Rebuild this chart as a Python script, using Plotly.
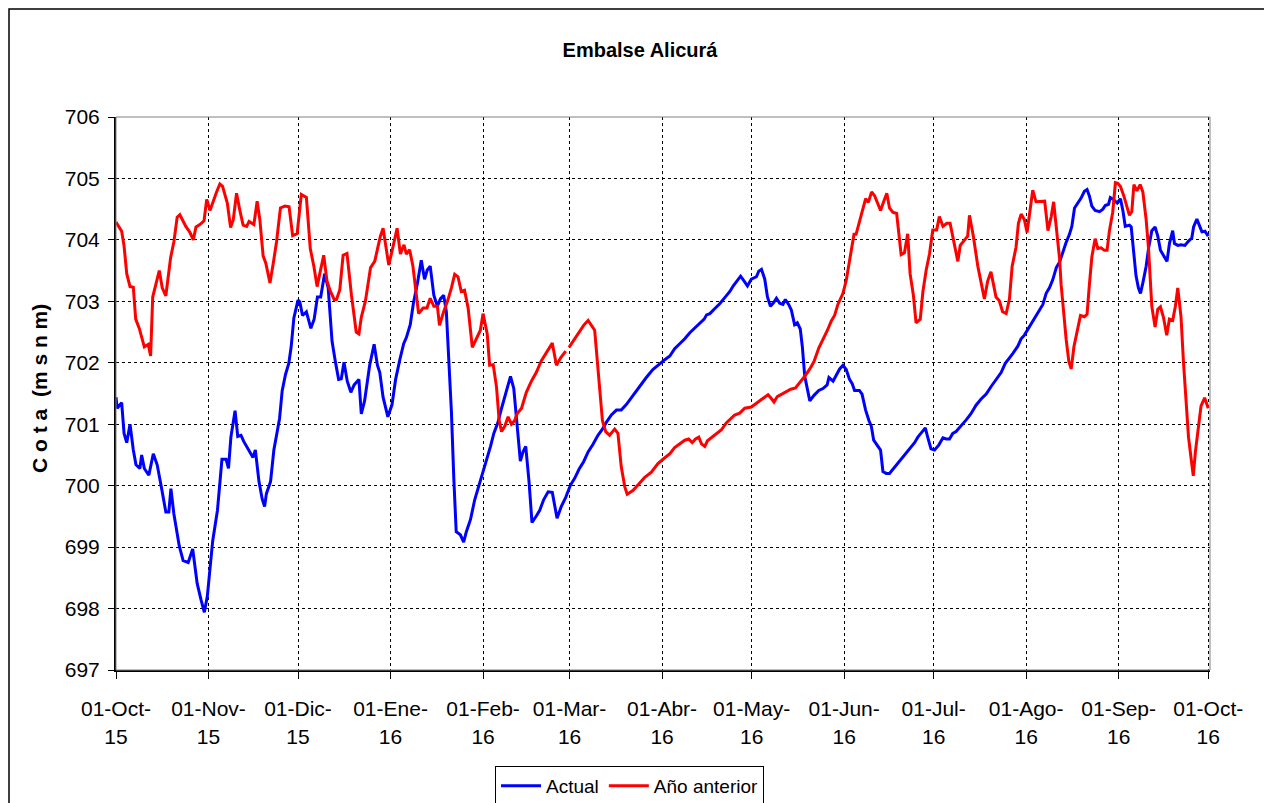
import pandas as pd
import plotly.graph_objects as go

# dias desde 01-Oct-15 / cota (m s n m)
dias_actual = [
  0, 0.4, 1.9, 2.7, 3.6, 4.7, 5.8, 6.7, 8.0, 8.6, 9.5, 11.0, 12.5, 13.8, 15.3, 16.7, 17.7, 18.4, 19.4, 21.2,
  22.5, 24.2, 25.7, 27.2, 28.5, 29.6, 30.6, 32.4, 34.0, 35.5, 36.9, 37.7, 38.5, 39.9, 40.8, 41.9, 42.8, 44.5,
  45.9, 46.7, 47.9, 49.0, 49.8, 50.4, 51.8, 52.9, 54.0, 54.8, 55.7, 56.8, 57.9, 58.7, 59.6, 61.0,
  61.6, 62.5, 63.8, 65.3, 66.4, 67.5, 68.6, 69.9, 71.1, 72.4, 73.5, 74.6, 75.5, 76.4, 77.5, 78.7, 79.8, 81.4,
  82.2, 83.3, 85.0, 86.5, 87.6, 88.4, 89.5, 91.1, 92.5, 93.7, 95.1, 96.4, 97.3, 98.6, 99.7, 101.0, 102.3,
  103.4, 104.3, 105.3, 106.5, 107.7, 108.7, 109.8, 110.7, 111.5, 112.4, 113.2, 114.0, 115.4, 116.5, 117.4,
  118.8, 120.2, 121.5,
  123.0, 124.4, 125.5, 126.6, 128.0, 129.2, 130.6, 132.2, 133.3, 134.2, 135.5, 136.4, 137.3, 138.4, 139.4,
  140.9, 142.0, 143.3, 144.8, 146.2, 147.0, 147.8, 149.2, 150.7, 152.3, 153.7, 155.2, 156.7, 158.2, 159.8,
  161.5, 163.0, 164.3, 166.0, 167.7, 169.3, 171.0, 173.2, 175.5, 177.7, 179.9, 182.2,
  183.9, 185.6, 187.2, 188.9, 190.6, 192.3, 193.9, 195.6, 197.1, 197.9, 199.0, 200.6, 202.3, 204.0, 205.7,
  206.8, 208.2, 209.3, 210.5, 211.6, 212.9, 214.6, 215.4, 216.3, 217.4, 218.3, 219.3, 220.4, 221.3, 222.4,
  223.5, 224.3, 225.4, 226.3, 227.4, 228.3, 229.3, 230.0, 230.8, 231.7, 232.5, 233.9, 235.5, 236.9, 238.3,
  238.9, 240.3, 241.4, 242.5, 243.6, 244.7, 245.8,
  246.7, 247.5, 249.1, 250.0, 251.2, 252.3, 253.1, 253.9, 255.3, 256.2, 257.0, 258.1, 259.2, 260.9, 262.5,
  264.2, 265.9, 267.6, 268.7, 269.8, 271.2, 272.0, 273.1, 274.3, 275.7, 277.1, 278.2, 279.3, 280.4, 281.5,
  283.2, 284.9, 286.5, 288.2, 289.9, 291.6, 293.2, 294.9, 296.6, 298.0, 299.4, 300.5, 302.2, 303.3, 304.4,
  306.1,
  307.8, 308.9, 310.6, 311.7, 312.8, 313.9, 315.1, 316.2, 317.3, 318.4, 319.5, 320.3, 321.2, 322.3, 323.4,
  324.5, 325.4, 326.2, 327.0, 328.1, 329.6, 330.7, 331.5, 332.6, 333.2, 334.2, 335.5, 336.6, 337.4, 338.2,
  339.6, 340.2, 341.0, 341.8, 342.6, 343.3, 344.1, 345.2, 346.0, 347.1, 348.2, 349.1, 350.0, 351.3, 352.2,
  353.0, 354.1, 354.7, 355.8, 356.9, 358.2, 359.4, 360.5, 361.1, 362.2, 363.0, 363.9, 364.9, 366.0,
]
cota_actual = [
  701.44, 701.26, 701.35, 700.85, 700.70, 701.00, 700.58, 700.34, 700.28, 700.50, 700.28, 700.17, 700.52,
  700.34, 699.95, 699.57, 699.57, 699.95, 699.54, 699.02, 698.78, 698.75, 698.97, 698.41, 698.14, 697.94,
  698.20, 699.10, 699.60, 700.43, 700.43, 700.28, 700.79, 701.22, 700.80, 700.82, 700.72, 700.58, 700.46,
  700.58, 700.07, 699.78, 699.66, 699.87, 700.07, 700.58, 700.91, 701.09, 701.55, 701.81, 701.99, 702.26,
  702.73, 703.02,
  702.99, 702.77, 702.83, 702.56, 702.71, 703.07, 703.07, 703.45, 703.22, 702.35, 702.02, 701.73, 701.74,
  702.01, 701.70, 701.52, 701.64, 701.73, 701.17, 701.38, 701.96, 702.30, 701.96, 701.84, 701.44, 701.12,
  701.32, 701.73, 702.05, 702.31, 702.41, 702.62, 702.98, 703.29, 703.67, 703.36, 703.51, 703.57, 703.10,
  702.92, 703.04, 703.10, 702.83, 702.08, 701.20, 700.12, 699.25, 699.20, 699.08, 699.25, 699.45, 699.77,
  699.98,
  700.20, 700.45, 700.64, 700.85, 701.03, 701.26, 701.52, 701.78, 701.58, 701.09, 700.40, 700.55, 700.64,
  700.07, 699.40, 699.51, 699.60, 699.77, 699.90, 699.89, 699.69, 699.47, 699.66, 699.81, 700.01, 700.12,
  700.27, 700.39, 700.55, 700.67, 700.82, 700.92, 701.03, 701.15, 701.23, 701.23, 701.32, 701.47, 701.61,
  701.76, 701.89, 701.99,
  702.05, 702.11, 702.23, 702.31, 702.39, 702.49, 702.56, 702.65, 702.71, 702.78, 702.80, 702.88, 702.96,
  703.06, 703.16, 703.25, 703.33, 703.41, 703.33, 703.25, 703.36, 703.40, 703.49, 703.52, 703.36, 703.07,
  702.92, 702.98, 703.05, 702.97, 702.95, 703.03, 702.95, 702.86, 702.62, 702.65, 702.55, 702.26, 701.78,
  701.55, 701.38, 701.47, 701.55, 701.58, 701.64, 701.76, 701.70, 701.80, 701.90, 701.96, 701.89, 701.73,
  701.66, 701.55, 701.55, 701.49, 701.23, 701.06, 700.97, 700.74, 700.64, 700.58, 700.23, 700.20, 700.20,
  700.30, 700.40, 700.50, 700.61, 700.70, 700.79, 700.85, 700.94, 700.79, 700.60, 700.58, 700.66, 700.78,
  700.76, 700.76, 700.85, 700.88, 700.97, 701.07, 701.17, 701.31, 701.41, 701.49, 701.61, 701.72, 701.84,
  701.99, 702.07, 702.15, 702.27, 702.39, 702.45, 702.59,
  702.72, 702.83, 702.95, 703.13, 703.22, 703.35, 703.55, 703.64, 703.81, 703.96, 704.09, 704.22, 704.52,
  704.59, 704.68, 704.79, 704.82, 704.71, 704.55, 704.48, 704.46, 704.50, 704.56, 704.58, 704.69, 704.66,
  704.60, 704.67, 704.48, 704.22, 704.24, 704.21, 703.80, 703.42, 703.22, 703.13, 703.30, 703.57, 703.86,
  704.15, 704.21, 704.06, 703.83, 703.71, 703.65, 703.94, 704.15, 703.94, 703.91, 703.92, 703.91, 703.98,
  704.03, 704.21, 704.34, 704.24, 704.13, 704.14, 704.06,
]

dias_anterior = [
  0, 1.9, 2.7, 3.6, 4.7, 5.8, 6.6, 7.8, 9.5, 10.8, 11.6, 12.3, 14.5, 15.5, 16.7, 18.3, 19.4, 20.5, 21.4,
  23.4, 24.8, 25.9, 26.8, 28.1, 29.5, 30.4, 31.5, 32.6, 33.7, 34.8, 35.7, 37.3, 38.4, 39.3, 40.4, 41.5,
  42.6, 43.8, 44.6, 46.2, 47.3, 48.2, 49.3, 50.2, 51.6, 52.7, 53.8, 55.1, 56.6, 58.0, 59.2, 60.7,
  62.1, 63.8, 65.1, 66.3, 67.4, 68.5, 69.6, 70.7, 71.8, 73.1, 73.9, 75.0, 76.1, 77.4, 78.9, 80.5, 81.4,
  82.2, 83.6, 85.3, 86.7, 87.8, 88.6, 89.5, 90.6, 91.4, 92.6, 94.2, 95.3, 96.5, 97.3, 98.4, 99.5, 101.4,
  102.9, 104.2, 105.3, 106.5, 107.7, 108.4, 109.8, 111.2, 112.4, 113.5, 114.6, 115.7, 116.8, 118.0, 119.4,
  120.7, 122.1,
  123.0, 124.4, 125.2, 126.4, 127.5, 128.4, 129.2, 130.3, 131.4, 132.5, 133.6, 134.4, 135.9, 137.5, 139.2,
  140.9, 142.5, 144.0, 145.3, 146.2, 147.6, 149.0, 150.7, 151.2, 151.8, 153.7, 155.2, 156.7, 158.2, 159.3,
  160.4, 161.2, 162.1, 163.0, 164.1, 165.4, 167.1, 168.2, 169.3, 170.5, 171.3, 173.2, 174.9, 177.1, 179.4,
  181.6, 183.8,
  185.6, 187.2, 188.9, 190.6, 191.9, 193.1, 194.2, 195.3, 196.2, 197.3, 198.2, 199.5, 201.2, 202.9, 204.5,
  206.2, 207.3, 209.0, 210.7, 212.9, 214.6, 216.3, 218.5, 219.4, 220.5, 221.6, 223.2, 224.6, 226.1, 227.7,
  229.1, 230.8, 232.5, 233.9, 235.5, 236.9, 238.4, 239.7, 240.8, 241.9, 243.6, 244.7, 245.8,
  246.7, 247.3, 248.0, 249.4, 250.3, 251.2, 252.1, 253.2, 254.2, 255.3, 256.2, 257.3, 258.3, 259.2, 260.3,
  261.6, 263.1, 264.2, 265.3, 266.1, 267.2, 268.1, 269.5, 270.4, 271.5, 272.6, 273.7, 275.0, 275.9, 277.1,
  278.4, 279.5, 280.6, 282.1, 282.9, 284.3, 285.4, 286.0, 287.3, 288.8, 289.9, 291.0, 292.1, 293.2, 294.9,
  296.0, 297.1, 298.3, 299.4, 300.3, 301.6, 302.4, 303.3, 304.4, 305.3, 306.3, 307.2, 308.3,
  310.0, 311.2, 312.3, 313.4, 314.2, 315.1, 316.2, 316.7, 317.6, 318.4, 319.3, 320.1, 321.0, 322.1, 323.2,
  324.5, 325.4, 326.2, 327.0, 328.1, 329.0, 330.1, 331.2, 332.1, 332.9, 334.0, 334.9, 335.7, 336.6, 337.7,
  338.8, 339.6, 340.4, 341.1, 342.1, 343.2, 344.1, 345.2, 346.0, 346.6, 347.1, 348.2, 349.1, 350.0, 351.0,
  352.1, 353.0, 354.1, 355.0, 355.8, 356.9, 357.7, 358.6, 359.4, 360.3, 361.0, 361.7, 362.7, 363.6, 364.8,
  365.6, 366.0,
]
cota_anterior = [
  704.29, 704.14, 703.90, 703.45, 703.24, 703.23, 702.71, 702.56, 702.26, 702.30, 702.11, 703.07, 703.50,
  703.22, 703.09, 703.71, 703.97, 704.37, 704.41, 704.22, 704.12, 704.00, 704.21, 704.25, 704.31, 704.66,
  704.48, 704.64, 704.78, 704.91, 704.87, 704.60, 704.20, 704.33, 704.76, 704.48, 704.24, 704.22, 704.30,
  704.25, 704.63, 704.33, 703.74, 703.62, 703.30, 703.62, 703.97, 704.52, 704.55, 704.54, 704.07, 704.10,
  704.74, 704.69, 703.86, 703.57, 703.24, 703.50, 703.75, 703.33, 703.17, 703.03, 703.03, 703.19, 703.75,
  703.78, 703.10, 702.50, 702.47, 702.74, 703.01, 703.55, 703.65, 703.89, 704.06, 704.19, 703.86, 703.59,
  703.84, 704.19, 703.77, 703.92, 703.77, 703.84, 703.57, 702.80, 702.89, 702.89, 703.05, 702.92, 702.92,
  702.61, 702.83, 703.02, 703.22, 703.44, 703.40, 703.16, 703.18, 702.89, 702.25, 702.38, 702.53,
  702.80, 702.47, 701.96, 701.97, 701.61, 701.06, 700.88, 700.97, 701.12, 701.00, 701.06, 701.17, 701.26,
  701.52, 701.70, 701.85, 702.03, 702.14, 702.24, 702.32, 701.96, 702.08, 702.19, None, 702.25, 702.39,
  702.49, 702.61, 702.69, 702.61, 702.53, 702.08, 701.52, 701.06, 700.88, 700.82, 700.92, 700.85, 700.31,
  699.98, 699.86, 699.92, 700.01, 700.13, 700.22, 700.36, 700.45,
  700.52, 700.62, 700.68, 700.74, 700.76, 700.70, 700.76, 700.79, 700.68, 700.64, 700.73, 700.78, 700.83,
  700.91, 701.02, 701.09, 701.15, 701.18, 701.26, 701.28, 701.34, 701.41, 701.48, 701.43, 701.36, 701.45,
  701.49, 701.53, 701.57, 701.59, 701.67, 701.78, 701.90, 702.02, 702.24, 702.37, 702.53, 702.68, 702.77,
  702.95, 703.13, 703.34, 703.68,
  703.94, 704.09, 704.09, 704.36, 704.51, 704.67, 704.61, 704.78, 704.72, 704.58, 704.48, 704.63, 704.76,
  704.52, 704.45, 704.43, 703.76, 703.79, 704.10, 703.45, 703.10, 702.65, 702.71, 703.16, 703.51, 703.77,
  704.16, 704.16, 704.38, 704.22, 704.27, 704.27, 704.00, 703.65, 703.91, 704.00, 704.06, 704.40, 704.06,
  703.57, 703.28, 703.04, 703.33, 703.48, 703.07, 703.01, 702.83, 702.80, 703.04, 703.57, 703.88, 704.27,
  704.42, 704.33, 704.12, 704.51, 704.81, 704.62,
  704.62, 704.63, 704.15, 704.38, 704.62, 704.15, 703.69, 703.28, 702.77, 702.38, 702.02, 701.90, 702.26,
  702.53, 702.77, 702.75, 702.79, 703.28, 703.72, 704.02, 703.86, 703.87, 703.83, 703.83, 704.15, 704.45,
  704.93, 704.92, 704.87, 704.72, 704.54, 704.40, 704.46, 704.90, 704.80, 704.90, 704.78, 704.33, 703.86,
  703.33, 702.92, 702.58, 702.87, 702.91, 702.74, 702.45, 702.71, 702.69, 702.92, 703.22, 702.74, 702.02,
  701.26, 700.79, 700.43, 700.16, 700.55, 700.97, 701.30, 701.43, 701.33, 701.26,
]

meses = ['01-Oct-<br>15', '01-Nov-<br>15', '01-Dic-<br>15', '01-Ene-<br>16', '01-Feb-<br>16',
         '01-Mar-<br>16', '01-Abr-<br>16', '01-May-<br>16', '01-Jun-<br>16', '01-Jul-<br>16',
         '01-Ago-<br>16', '01-Sep-<br>16', '01-Oct-<br>16']

inicio = pd.Timestamp('2015-10-01')
fechas_actual = inicio + pd.to_timedelta(dias_actual, unit='D')
fechas_anterior = inicio + pd.to_timedelta(dias_anterior, unit='D')
fechas_meses = pd.date_range(inicio, periods=len(meses), freq='MS')

FONT = 'Liberation Sans Narrow, Arial Narrow, Liberation Sans, Arial, sans-serif'

# the page body adds an 8px offset, so the figure is 8px smaller than the window
W, H = 1264, 795

fig = go.Figure(
  layout=dict(
    template='plotly_white',
    width=W,
    height=H,
    margin=dict(l=108, r=62, t=109, b=133, autoexpand=False),
    font=dict(family=FONT, color='black'),
    plot_bgcolor='white',
    paper_bgcolor='white',
    title=dict(text='<b>Embalse Alicurá</b>', font=dict(size=20, family=FONT),
               x=0.5, xref='container', xanchor='center',
               y=1 - 42 / H, yref='container', yanchor='middle'),
    legend=dict(orientation='h', x=0.4694, xanchor='center', y=-0.1736, yanchor='top',
                bordercolor='black', borderwidth=1, bgcolor='white',
                font=dict(size=19, family=FONT), itemwidth=40),
  )
).update_xaxes(
  range=[inicio, inicio + pd.Timedelta(days=366.6)],
  tickvals=fechas_meses, ticktext=meses,
  tickfont=dict(size=21), ticklabelstandoff=12,
  showgrid=True, gridcolor='black', gridwidth=1, griddash='3px,3px',
  showline=True, linecolor='black', linewidth=2,
  ticks='outside', ticklen=7, tickcolor='black', zeroline=False,
).update_yaxes(
  range=[697, 706], dtick=1,
  tickfont=dict(size=21), ticklabelstandoff=4,
  showgrid=True, gridcolor='black', gridwidth=1, griddash='3px,3px',
  showline=True, linecolor='black', linewidth=2,
  ticks='outside', ticklen=6, tickcolor='black', zeroline=False,
)

fig.add_trace(go.Scatter(x=fechas_actual, y=cota_actual, mode='lines', name='Actual',
                         line=dict(color='#0000FF', width=3)))
fig.add_trace(go.Scatter(x=fechas_anterior, y=cota_anterior, mode='lines', name='Año anterior',
                         line=dict(color='#FF0000', width=3)))

# borde del area de trazado (gris) y borde exterior del grafico
fig.add_shape(type='rect', xref='paper', yref='paper', x0=0, x1=1, y0=0, y1=1,
              line=dict(color='#808080', width=1), layer='above')
fig.add_shape(type='rect', xref='paper', yref='paper', x0=-0.0978, x1=1.053, y0=-0.26, y1=1.1953,
              line=dict(color='black', width=1.5), layer='below')

fig.add_annotation(text='<b>C o t a  (m s n m)</b>', textangle=-90, showarrow=False,
                   xref='paper', yref='paper', x=-0.0695, y=0.51, xanchor='center', yanchor='middle',
                   font=dict(size=21, family=FONT))

fig.write_html('out.html')
